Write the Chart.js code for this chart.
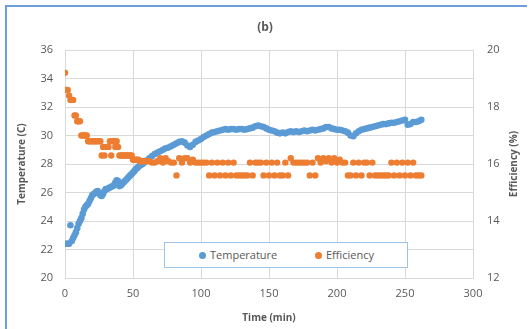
<!DOCTYPE html>
<html>
<head>
<meta charset="utf-8">
<script src="https://cdn.jsdelivr.net/npm/chart.js@4"></script>
<style>
  html, body { margin: 0; padding: 0; background: #fff; }
  #wrap { position: relative; width: 530px; height: 329px; overflow: hidden; }
  #frame { position: absolute; left: 5px; top: 5px; width: 520px; height: 340px;
           border-top: 2px solid #6c9fd8; border-left: 2px solid #6c9fd8; }
  canvas { position: absolute; left: 0; top: 0; }
  #legend { position: absolute; left: 164px; top: 242px; width: 242px; height: 24px;
            border: 1px solid #9dc3e6; background: #fff;
            font-family: "Open Sans", sans-serif; font-size: 11px; color: #595959; }
  .item { position: absolute; top: 4px; line-height: 16px; white-space: nowrap; }
  .dot { display: inline-block; width: 7px; height: 7px; border-radius: 50%;
         margin-right: 4px; vertical-align: 0px; }
</style>
</head>
<body>
<div id="wrap">
  <div id="frame"></div>
  <canvas id="c" width="530" height="329"></canvas>
  <div id="legend">
    <span class="item" style="left:34px"><span class="dot" style="background:#5b9bd5"></span>Temperature</span>
    <span class="item" style="left:150px"><span class="dot" style="background:#ed7d31"></span>Efficiency</span>
  </div>
</div>
<script>
const times = [
  0,1,2,3,4,5,6,7,8,9,10,11,12,13,14,15,16,17,18,19,
  20,21,22,23,24,25,26,27,28,29,30,31,32,33,34,35,36,37,38,39,
  40,41,42,43,44,45,46,47,48,49,50,51,52,53,54,55,56,57,58,59,60,
  62,64,66,68,70,72,74,76,78,
  80,82,84,86,88,90,92,94,96,98,100,102,104,106,108,110,112,114,116,118,
  120,122,124,126,128,130,132,134,136,138,140,142,144,146,148,150,152,154,156,158,
  160,162,164,166,168,170,172,174,176,178,180,182,184,186,188,190,192,194,196,198,
  200,202,204,206,208,210,212,214,216,218,220,222,224,226,228,230,232,234,236,238,
  240,242,244,246,248,250,252,254,256,258,260,262
];

const temperature = [
  22.4,22.4,22.4,22.4,23.7,22.6,22.8,23.0,23.2,23.5,23.8,24.0,24.2,24.5,24.8,25.0,25.1,25.2,25.4,25.6,
  25.8,25.9,25.95,26.05,26.1,25.95,25.8,25.75,25.9,26.1,26.25,26.25,26.3,26.35,26.4,26.45,26.5,26.7,26.85,26.8,
  26.45,26.5,26.6,26.7,26.8,26.9,27.0,27.1,27.2,27.3,27.4,27.5,27.65,27.7,27.8,27.9,27.95,28.0,28.1,28.2,28.25,
  28.4,28.55,28.7,28.8,28.9,29.0,29.1,29.15,29.25,
  29.35,29.45,29.55,29.6,29.5,29.3,29.2,29.35,29.55,29.65,29.75,29.9,30.0,30.1,30.2,30.25,30.3,30.35,30.4,30.45,
  30.4,30.45,30.45,30.4,30.45,30.45,30.4,30.45,30.5,30.55,30.65,30.7,30.65,30.6,30.5,30.4,30.35,30.3,30.2,30.15,
  30.2,30.15,30.25,30.3,30.25,30.3,30.25,30.3,30.35,30.3,30.35,30.4,30.35,30.4,30.45,30.5,30.6,30.6,30.5,30.45,
  30.4,30.4,30.35,30.3,30.2,30.0,29.95,30.15,30.3,30.4,30.45,30.5,30.55,30.6,30.65,30.7,30.75,30.8,30.8,30.85,
  30.9,30.9,30.95,31.0,31.05,31.1,30.75,30.8,30.95,30.95,31.0,31.1
];

const efficiency = [
  19.2,18.6,18.6,18.4,18.25,18.25,18.25,17.7,17.7,17.5,17.5,17.5,17.0,17.0,17.0,17.0,17.0,16.8,16.8,16.8,
  16.8,16.8,16.8,16.8,16.8,16.8,16.8,16.3,16.6,16.3,16.6,16.6,16.6,16.8,16.3,16.8,16.8,16.6,16.8,16.6,
  16.3,16.3,16.3,16.3,16.3,16.3,16.3,16.3,16.3,16.3,16.15,16.15,16.15,16.15,16.15,16.1,16.1,16.1,16.1,16.1,16.1,
  16.1,16.05,16.05,16.1,16.2,16.05,16.2,16.1,16.05,
  16.05,15.6,16.2,16.05,16.2,16.2,16.05,16.15,16.05,16.05,16.05,16.05,16.05,15.6,16.05,15.6,16.05,15.6,16.05,15.6,
  16.05,15.6,16.05,15.6,15.6,15.6,15.6,15.6,16.05,15.6,16.05,16.05,16.05,15.6,16.05,15.6,16.05,15.6,16.05,15.6,
  15.6,16.05,15.6,16.2,16.05,16.05,16.05,16.05,16.05,16.05,15.6,16.05,15.6,16.2,16.05,16.2,16.1,16.2,16.05,16.2,
  16.05,16.15,16.05,16.05,15.6,15.6,16.05,15.6,16.05,15.6,16.05,16.05,15.6,16.05,15.6,15.6,15.6,15.6,15.6,15.6,
  16.05,15.6,16.05,15.6,16.05,15.6,16.05,15.6,16.05,15.6,15.6,15.6
];

const chartTitle = "(b)";
const xTitle = "Time (min)";
const yTitle = "Temperature (C)";
const y1Title = "Efficiency (%)";

const gray = "#595959";
const gridColor = "#d9d9d9";
const fontFamily = "'Open Sans', sans-serif";

const rightTitlePlugin = {
  id: 'rightTitle',
  afterDraw(chart) {
    const ctx = chart.ctx;
    const area = chart.chartArea;
    ctx.save();
    ctx.font = "bold 10px " + fontFamily;
    ctx.fillStyle = gray;
    ctx.textAlign = "center";
    ctx.textBaseline = "middle";
    ctx.translate(514, (area.top + area.bottom) / 2);
    ctx.rotate(-Math.PI / 2);
    ctx.fillText(y1Title, 0, 0);
    ctx.restore();
  }
};

new Chart(document.getElementById('c'), {
  type: 'scatter',
  data: {
    datasets: [
      {
        label: 'Temperature',
        data: times.map((t, i) => ({x: t, y: temperature[i]})),
        backgroundColor: '#5b9bd5',
        borderWidth: 0,
        pointRadius: 3.3,
        yAxisID: 'y',
        order: 1
      },
      {
        label: 'Efficiency',
        data: times.map((t, i) => ({x: t, y: efficiency[i]})),
        backgroundColor: '#ed7d31',
        borderWidth: 0,
        pointRadius: 3.2,
        yAxisID: 'y1',
        order: 0
      }
    ]
  },
  options: {
    responsive: false,
    animation: false,
    devicePixelRatio: 1,
    layout: { padding: 0 },
    plugins: {
      legend: { display: false },
      tooltip: { enabled: false },
      title: {
        display: true,
        text: chartTitle,
        color: gray,
        font: { family: fontFamily, size: 12, weight: 'bold', lineHeight: 1.2 },
        padding: { top: 20, bottom: 15.6 }
      }
    },
    scales: {
      x: {
        type: 'linear',
        min: 0, max: 300,
        ticks: { stepSize: 50, color: gray, font: { family: fontFamily, size: 11 }, padding: 9, maxRotation: 0 },
        grid: { color: gridColor, drawTicks: false },
        border: { color: gridColor },
        title: { display: true, text: xTitle, color: gray, font: { family: fontFamily, size: 10, weight: 'bold', lineHeight: 1.2 }, padding: { top: 0, bottom: 5 } },
        afterFit(s) { s.height = 51; }
      },
      y: {
        position: 'left',
        min: 20, max: 36,
        ticks: { stepSize: 2, color: gray, font: { family: fontFamily, size: 11 }, padding: 12 },
        grid: { color: gridColor, drawTicks: false },
        border: { display: false },
        title: { display: true, text: yTitle, color: gray, font: { family: fontFamily, size: 10, weight: 'bold', lineHeight: 1.2 }, padding: { top: 16, bottom: 0 } },
        afterFit(s) { s.width = 65; }
      },
      y1: {
        position: 'right',
        min: 12, max: 20,
        ticks: { stepSize: 2, color: gray, font: { family: fontFamily, size: 11 }, padding: 14 },
        grid: { drawOnChartArea: false, drawTicks: false },
        border: { display: false },
        afterFit(s) { s.width = 57; }
      }
    }
  },
  plugins: [rightTitlePlugin]
});
</script>
</body>
</html>
